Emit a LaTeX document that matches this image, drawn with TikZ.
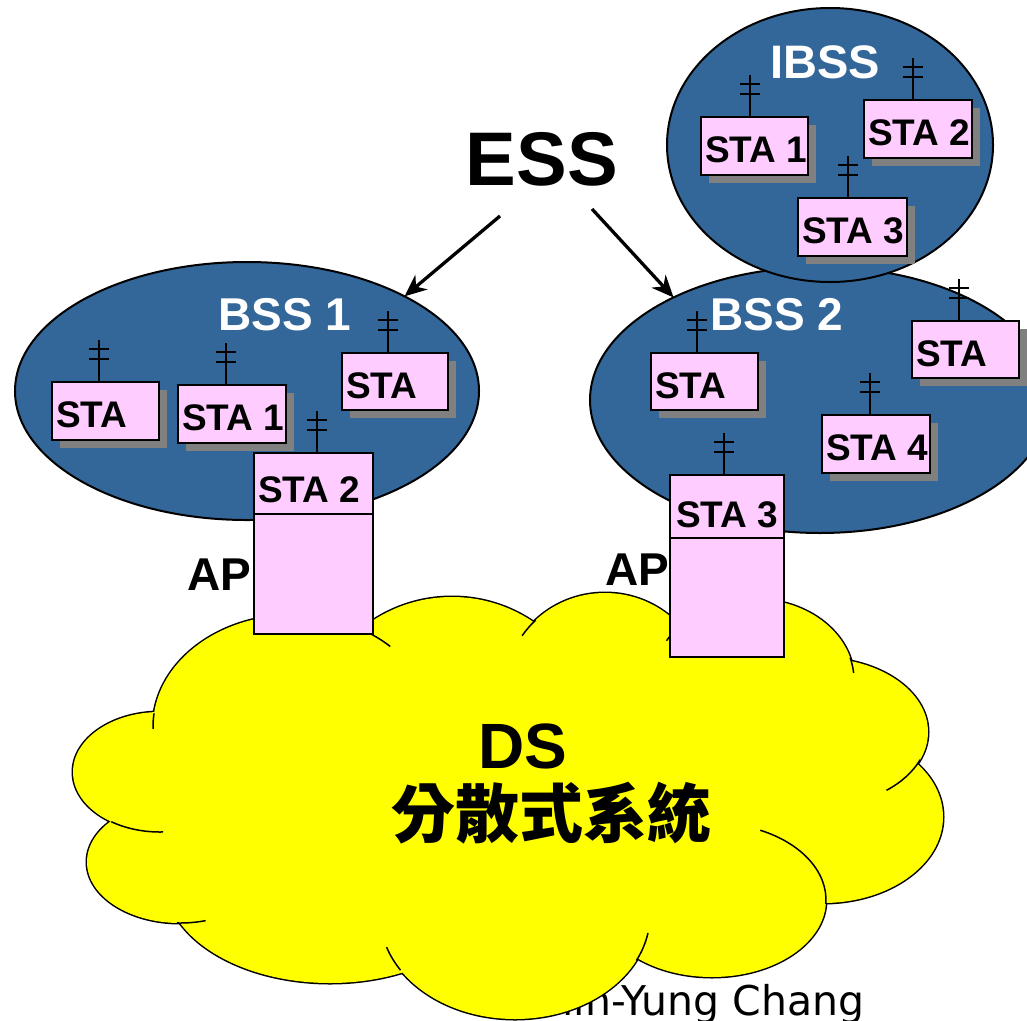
\documentclass[tikz,border=0pt]{standalone}
\usepackage{fontspec}
\setmainfont{Liberation Sans}
\newfontfamily\cjkfont{Noto Sans CJK TC}
\newfontfamily\namefont{DejaVu Sans}
\usetikzlibrary{arrows.meta,shapes.geometric,calc}

\definecolor{bssblue}{RGB}{51,102,153}
\definecolor{stapink}{RGB}{255,204,255}
\definecolor{shadegray}{RGB}{128,128,128}
\definecolor{dsyellow}{RGB}{255,255,0}

\tikzset{
  cell/.style={ellipse, draw=black, line width=2, fill=bssblue, inner sep=0, outer sep=0},
  stabox/.style={draw=black, line width=2.5, fill=stapink, inner sep=0, outer sep=0},
  statext/.style={font=\fontsize{37}{40}\selectfont\bfseries, inner sep=0},
  cellname/.style={font=\fontsize{46}{50}\selectfont\bfseries, text=white, inner sep=0},
  aplabel/.style={font=\fontsize{46}{50}\selectfont\bfseries, inner sep=0},
  antenna/.style={draw=black, line width=2.8},
  essarrow/.style={draw=black, line width=3.3, -{Stealth[length=22,width=19,inset=7]}},
  cloudedge/.style={draw=black, line width=3},
  cloudstub/.style={draw=black, line width=1.5},
}

% station box with drop shadow, label and antenna
% #1 name, #2 left, #3 top, #4 width, #5 height, #6 label, #7 antenna x
\newcommand\stastation[7]{%
  \fill[shadegray] (#2+7.5,#3+7.5) rectangle (#2+#4+7.5,#3+#5+7.5);
  \node[stabox, minimum width=#4, minimum height=#5, anchor=north west] (#1) at (#2,#3) {};
  \node[statext, anchor=base west] (#1-text) at (#2+4,#3+#5/2+16.5) {#6};
  \draw[antenna] (#7,#3) -- (#7,#3-42)
    (#7-10,#3-33) -- (#7+10,#3-33)
    (#7-10,#3-23) -- (#7+10,#3-23);
}

\begin{document}
\begin{tikzpicture}[x=1pt,y=-1pt]
\useasboundingbox (0,0) rectangle (1027,1020);
\clip (0,0) rectangle (1027,1020);
\fill[white] (0,0) rectangle (1027,1020);

% author line, partly hidden by the DS cloud
\node[font=\namefont\fontsize{41}{44}\selectfont, anchor=base west, inner sep=0] (author) at (519,1015) {Chin-Yung Chang};

% basic service sets
\node[cell, minimum width=464, minimum height=258] (bss1) at (247,391) {};
\node[cell, minimum width=460, minimum height=266] (bss2) at (820,400) {};
\node[cell, minimum width=326, minimum height=274] (ibss) at (830,145) {};

\node[cellname, anchor=base] (bss1-name) at (285,330) {BSS 1};
\node[cellname, anchor=base] (bss2-name) at (777,330) {BSS 2};
\node[cellname, font=\fontsize{47}{50}\selectfont\bfseries, anchor=base] (ibss-name) at (825,78) {IBSS};

% stations of BSS 1
\stastation{b1sa}{52}{382}{107}{58}{STA}{99}
\stastation{b1sb}{178}{385}{108}{58}{STA 1}{226}
\stastation{b1sc}{342}{353}{106}{57}{STA}{388}

% stations of BSS 2
\stastation{b2sa}{651}{353}{107}{57}{STA}{697}
\stastation{b2sb}{912}{321}{107}{57}{STA}{959}
\stastation{b2sc}{822}{415}{108}{58}{STA 4}{870}

% stations of the IBSS
\stastation{isa}{701}{117}{107}{58}{STA 1}{750}
\stastation{isb}{864}{100}{108}{58}{STA 2}{913}
\stastation{isc}{798}{198}{109}{58}{STA 3}{848}

% ESS label and arrows
\node[font=\fontsize{76}{80}\selectfont\bfseries, anchor=base, inner sep=0] (ess) at (542,185) {ESS};
\coordinate (ess-left) at (500,216);
\coordinate (ess-right) at (592,209);
\draw[essarrow] (ess-left) -- (bss1.31);
\draw[essarrow] (ess-right) -- (bss2.145);

% distribution system cloud: lobe outlines, then fill, then inner strokes
\foreach \cx/\cy/\rx/\ry in {293/727/140/112, 160/772/87/60, 180/862/93/61,
    330/880/165/103, 515/915/135/104, 712/900/114/77, 823/817/120/86,
    820/732/108/74, 754/680/100/81, 605/690/100/97, 452/742/145/145}
  \draw[cloudedge] (\cx,\cy) ellipse [x radius=\rx, y radius=\ry];
\foreach \cx/\cy/\rx/\ry in {293/727/140/112, 160/772/87/60, 180/862/93/61,
    330/880/165/103, 515/915/135/104, 712/900/114/77, 823/817/120/86,
    820/732/108/74, 754/680/100/81, 605/690/100/97, 452/742/145/145,
    520/800/320/150}
  \fill[dsyellow] (\cx,\cy) ellipse [x radius=\rx, y radius=\ry];
\foreach \cx/\cy/\rx/\ry/\ta/\tb in {293/727/140/112/187/179, 293/727/140/112/-56/-46,
    160/772/87/60/124/88, 180/862/93/61/92/74, 515/915/135/104/148/162,
    515/915/135/104/26/10, 712/900/114/77/-65/3, 820/732/108/74/22/52,
    754/680/100/81/-16/-5, 754/680/100/81/-151/-143, 605/690/100/97/-134/-146}
  \draw[cloudstub] ({\cx+\rx*cos(\ta)},{\cy+\ry*sin(\ta)}) arc[start angle=\ta, end angle=\tb, x radius=\rx, y radius=\ry];

% access points
\node[stabox, minimum width=119, minimum height=181, anchor=north west] (ap1) at (254,453) {};
\draw[line width=2.5] ([yshift=-61]ap1.north west) -- ([yshift=-61]ap1.north east);
\node[statext, anchor=base west] (ap1-text) at (258,502) {STA 2};
\draw[antenna] (317,453) -- (317,411) (307,420) -- (327,420) (307,430) -- (327,430);
\node[aplabel, anchor=base] (ap1-label) at (219,590) {AP};

\node[stabox, minimum width=114, minimum height=182, anchor=north west] (ap2) at (670,475) {};
\draw[line width=2.5] ([yshift=-63]ap2.north west) -- ([yshift=-63]ap2.north east);
\node[statext, anchor=base west] (ap2-text) at (676,527) {STA 3};
\draw[antenna] (724,475) -- (724,433) (714,442) -- (734,442) (714,452) -- (734,452);
\node[aplabel, anchor=base] (ap2-label) at (637,585) {AP};

% cloud caption
\node[font=\fontsize{64}{68}\selectfont\bfseries, anchor=base, inner sep=0] (ds) at (523,768) {DS};
\node[font=\fontsize{64}{68}\selectfont\cjkfont\bfseries, inner sep=0] (ds-zh) at (551,813) {分散式系統};
\end{tikzpicture}
\end{document}
